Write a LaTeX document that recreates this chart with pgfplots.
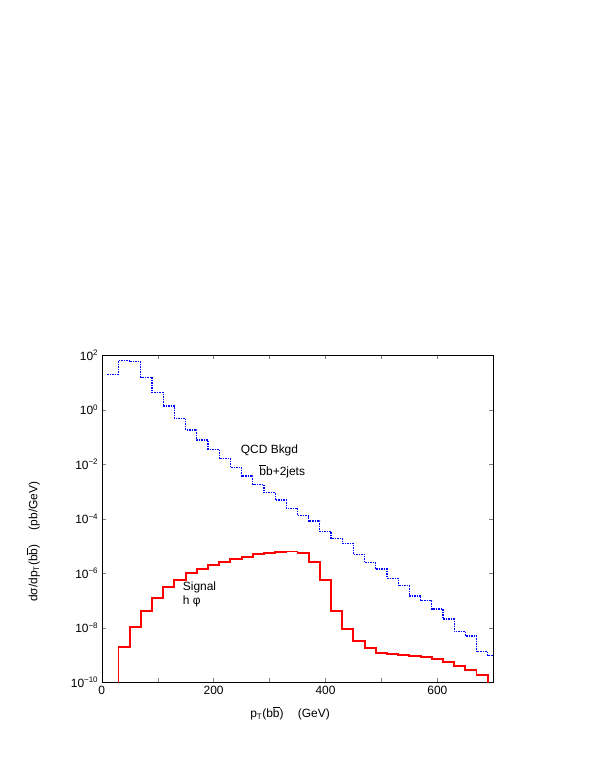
\documentclass[border=0pt]{standalone}
\usepackage{fontspec}
\setmainfont{Liberation Sans}
\usepackage{pgfplots}
\pgfplotsset{compat=1.18}

\definecolor{qcdblue}{RGB}{0,0,255}
\definecolor{sigred}{RGB}{255,0,0}
\newcommand{\bbar}{$\overline{\hbox{b}}$}

\pgfplotstableread{
x y
10 20.4
30 63.1
50 57.5
70 15.8
90 4.37
110 1.38
130 0.490
150 0.182
170 0.0776
190 0.0355
210 0.0162
230 7.59e-3
250 3.72e-3
270 1.86e-3
290 9.12e-4
310 4.90e-4
330 2.45e-4
350 1.29e-4
370 8.32e-5
390 3.39e-5
410 1.91e-5
430 1.26e-5
450 5.01e-6
470 2.45e-6
490 1.45e-6
510 6.61e-7
530 3.47e-7
550 1.48e-7
570 9.77e-8
590 4.90e-8
610 2.09e-8
630 7.24e-9
650 5.01e-9
670 1.32e-9
690 9.55e-10
700 9.55e-10
}\qcd

\pgfplotstableread{
x y
10 1e-12
30 2.04e-9
50 1.10e-8
70 4.27e-8
90 1.26e-7
110 3.09e-7
130 5.62e-7
150 1.00e-6
170 1.45e-6
190 2.00e-6
210 2.63e-6
230 3.31e-6
250 4.07e-6
270 5.01e-6
290 5.75e-6
310 6.03e-6
330 6.31e-6
350 5.37e-6
370 2.69e-6
390 5.62e-7
410 4.27e-8
430 9.12e-9
450 3.39e-9
470 1.86e-9
490 1.23e-9
510 1.10e-9
530 1.00e-9
550 9.33e-10
570 8.32e-10
590 7.41e-10
610 5.75e-10
630 3.98e-10
650 2.82e-10
670 1.86e-10
690 1e-12
700 1e-12
}\signal

\begin{document}
\begin{tikzpicture}[font=\fontsize{12}{14}\selectfont]
\useasboundingbox (0,0) rectangle (595bp,770bp);

\begin{axis}[
at={(101.7bp,87.7bp)},
anchor=south west,
width=391.6bp,
height=327bp,
scale only axis,
ymode=log,
xmin=0, xmax=700,
ymin=1e-10, ymax=1e2,
xtick={0,200,400,600},
minor xtick={100,300,500},
ytick={1e-10,1e-8,1e-6,1e-4,1e-2,1e0,1e2},
yticklabels={10\textsuperscript{−10},10\textsuperscript{−8},10\textsuperscript{−6},10\textsuperscript{−4},10\textsuperscript{−2},10\textsuperscript{0},10\textsuperscript{2}},
yminorticks=false,
tick align=inside,
tick pos=both,
major tick length=4bp,
minor tick length=4bp,
/pgf/number format/assume math mode=true,
tick label style={font=\fontsize{12}{14}\selectfont},
xlabel={p\textsubscript{T}(b\bbar)\hspace{1.2em}(GeV)},
ylabel={dσ/dp\textsubscript{T}(b\bbar)\hspace{1.2em}(pb/GeV)},
every axis x label/.style={at={(rel axis cs:0.481,-0.095)}, anchor=center},
every axis y label/.style={at={(rel axis cs:-0.175,0.43)}, anchor=center, rotate=90},
]

% QCD background, bb+2jets
\addplot [const plot, draw=qcdblue, no markers, line width=1.2pt, dash pattern=on 1.5pt off 1pt]
table {\qcd};

% signal h phi
\addplot [const plot, draw=sigred, no markers, line width=1.9pt]
table {\signal};

\node[anchor=west, inner sep=0pt] at (axis cs:248.5,3.35e-2) {QCD Bkgd};
\node[anchor=west, inner sep=0pt] at (axis cs:281.7,5.4e-3) {\bbar b+2jets};
\node[anchor=west, inner sep=0pt] at (axis cs:144.8,3.1e-7) {Signal};
\node[anchor=west, inner sep=0pt] at (axis cs:144.8,9.1e-8) {h φ};

\end{axis}
\end{tikzpicture}
\end{document}
